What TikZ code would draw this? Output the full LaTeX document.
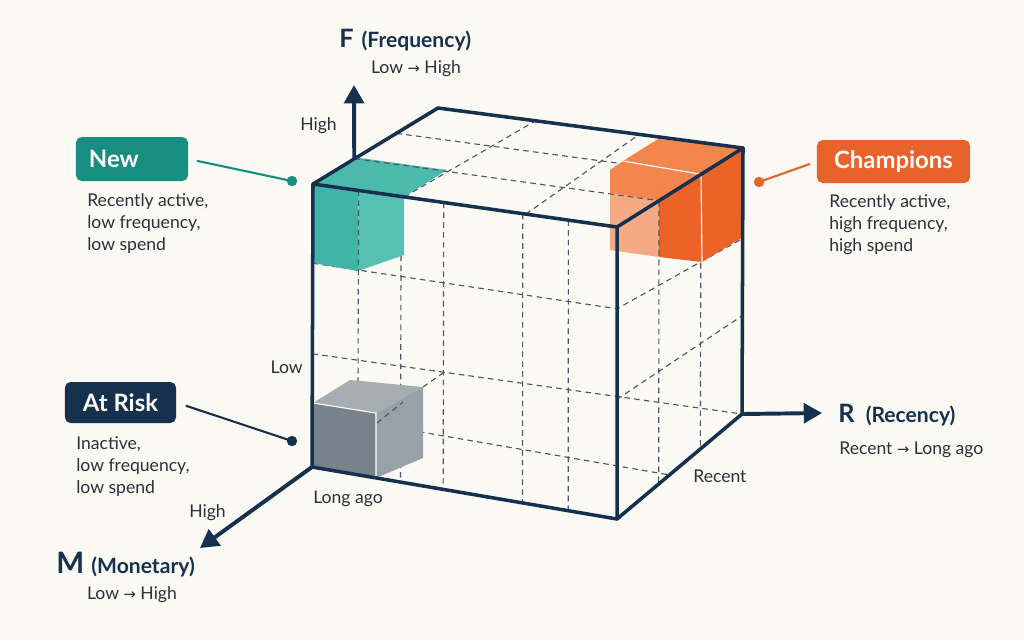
\documentclass[tikz,border=0pt]{standalone}
\usepackage{fontspec}
\setmainfont{Lato}
\newfontfamily\symfont{DejaVu Sans}
\usetikzlibrary{calc,arrows.meta}

\definecolor{bgcol}{HTML}{FBF9F3}
\definecolor{navy}{HTML}{15314E}
\definecolor{inkgray}{HTML}{2C3038}
\definecolor{gridcol}{HTML}{4E5763}
\definecolor{tealbox}{HTML}{178F80}
\definecolor{tealA}{HTML}{3FB4A7}
\definecolor{tealB}{HTML}{57C0B4}
\definecolor{tealC}{HTML}{4BBAAD}
\definecolor{orgbox}{HTML}{E8632B}
\definecolor{orgA}{HTML}{F2864C}
\definecolor{orgB}{HTML}{F6AA84}
\definecolor{orgC}{HTML}{EB6327}
\definecolor{grayA}{HTML}{77828A}
\definecolor{grayB}{HTML}{98A1A7}
\definecolor{grayC}{HTML}{A5ADB1}

\newcommand{\rarr}{{\symfont\fontsize{10.5}{12}\selectfont →}}

\begin{document}
\begin{tikzpicture}[x=0.025cm, y=-0.025cm,
  cubeedge/.style={navy, line width=2.5pt, line join=round, line cap=round},
  axisarrow/.style={navy, line width=2.8pt, -{Triangle[length=13pt,width=14pt]}},
  gridline/.style={gridcol, line width=0.8pt, dash pattern=on 4pt off 3pt},
  tag/.style={rounded corners=4pt, text=white, font=\fontsize{17}{20}\selectfont\bfseries, inner sep=0pt},
  desc/.style={inkgray, font=\fontsize{12.5}{15.6}\selectfont, align=left, anchor=north west, inner sep=0pt},
  axlab/.style={navy, anchor=base west, inner sep=0pt},
  tick/.style={inkgray, font=\fontsize{12.5}{14}\selectfont, inner sep=0pt},
  link/.style={line width=1.5pt},
  dot/.style={circle, inner sep=0pt, minimum size=0.26cm}]

  \useasboundingbox (0,0) rectangle (1024,640);
  \fill[bgcol] (0,0) rectangle (1024,640);

  % Cube corners
  \coordinate (A) at (313,184);
  \coordinate (B) at (617,227);
  \coordinate (C) at (617,519);
  \coordinate (D) at (312,467);
  \coordinate (E) at (438,108);
  \coordinate (F) at (743,148);
  \coordinate (G) at (742,414);

  % Top face grid
  \draw[gridline] ($(A)!2/3!(E)$) -- ($(B)!2/3!(F)$);
  \draw[gridline] ($(A)!0.3!(B)$) -- ($(E)!0.32!(F)$);
  \draw[gridline] ($(A)!0.7!(B)$) -- ($(E)!0.66!(F)$);

  % Front face grid
  \foreach \u in {0.29,0.43,0.69,0.84}
    \draw[gridline] ($(A)!\u!(B)$) -- ($(D)!\u!(C)$);
  \draw[gridline] ($(A)!0.28!(D)$) -- ($(B)!0.28!(C)$) -- ($(F)!0.34!(G)$);
  \draw[gridline] ($(A)!0.6!(D)$) -- (G);
  \draw[gridline] ($(A)!0.81!(D)$) -- ($(C)!0.42!(G)$);

  % Right face grid
  \draw[gridline] ($(B)!0.59!(C)$) -- ($(F)!0.63!(G)$);
  \draw[gridline] ($(B)!2/3!(F)$) -- ($(C)!2/3!(G)$);
  \draw[gridline] (423,387) -- (443,373);

  % New block
  \fill[tealC] (A) -- (360,158) -- (447,170) -- ($(A)!0.3!(B)$) -- cycle;
  \fill[tealA] (A) -- ($(A)!0.15!(B)$) -- (358,271) -- (313,263) -- cycle;
  \fill[tealB] ($(A)!0.15!(B)$) -- ($(A)!0.3!(B)$) -- (404,255) -- (358,271) -- cycle;

  % Champions block
  \fill[orgA] (610,170) -- (623,161) -- (658,139) -- (F) -- ($(B)!1/3!(F)$) -- (610,193) -- cycle;
  \fill[orgB] (610,193) -- ($(B)!1/3!(F)$) -- (659,257) -- (610,250) -- cycle;
  \fill[orgC] ($(B)!1/3!(F)$) -- (F) -- (743,237) -- (702,262) -- (659,257) -- cycle;
  \draw[white, line width=0.8pt] (623,161) -- ($(B)!2/3!(F)$) -- (702,262);

  % grid seen over the blocks
  \draw[gridline] ($(A)!1/3!(E)$) -- ($(B)!1/3!(F)$);
  \draw[gridline] ($(A)!0.15!(B)$) -- ($(D)!0.15!(C)$);
  \draw[gridline] ($(B)!1/3!(F)$) -- ($(C)!1/3!(G)$);

  % At Risk block
  \fill[grayC] (313,403) -- (350,380) -- (423,387) -- (376,413) -- cycle;
  \fill[grayB] (376,413) -- (423,387) -- (423,458) -- (376,478) -- cycle;
  \fill[grayA] (313,403) -- (376,413) -- (376,478) -- (D) -- cycle;
  \draw[white, line width=0.8pt] (313,403) -- (376,413) -- (376,478);
  \draw[gridline] (377,423) -- (403,402);

  % Axes
  \coordinate (Fbase) at ($(A)!0.33!(E)$);
  \coordinate (Ftip) at (354,85);
  \coordinate (Mtip) at (200,548);
  \coordinate (Rtip) at (822,413);
  \draw[axisarrow] (Fbase) -- (Ftip);
  \draw[axisarrow] (D) -- (Mtip);
  \draw[axisarrow] (G) -- (Rtip);

  % Cube edges
  \draw[cubeedge] (A) -- (B) -- (C) -- (D) -- cycle;
  \draw[cubeedge] (A) -- (E) -- (F) -- (B);
  \draw[cubeedge] (F) -- (G) -- (C);

  % Axis labels
  \node[axlab] (flab) at (339,47) {\fontsize{18}{20}\selectfont\bfseries F\hspace{0.2cm}\fontsize{15}{18}\selectfont(Frequency)};
  \node[tick, anchor=base] (frange) at (416,73) {Low \rarr{} High};
  \node[axlab] (rlab) at (838,422) {\fontsize{18}{20}\selectfont\bfseries R\hspace{0.28cm}\fontsize{15}{18}\selectfont(Recency)};
  \node[tick, anchor=base west] (rrange) at (839,454) {Recent \rarr{} Long ago};
  \node[axlab] (mlab) at (56,573) {\fontsize{21}{22}\selectfont\bfseries M\hspace{0.18cm}\fontsize{15}{18}\selectfont(Monetary)};
  \node[tick, anchor=base] (mrange) at (132,599) {Low \rarr{} High};

  % Axis ends
  \node[tick, anchor=base east] (fhigh) at (337,130) {High};
  \node[tick, anchor=base east] (flow) at (303,373) {Low};
  \node[tick, anchor=base west] (rlong) at (313,503) {Long ago};
  \node[tick, anchor=base west] (rrecent) at (693,482) {Recent};
  \node[tick, anchor=base west] (mhigh) at (189,517) {High};

  % Segment tags
  \node[tag, fill=tealbox, minimum width=2.8cm, minimum height=1.1cm, text width=2.15cm, align=left] (new) at (132,159) {New};
  \node[desc] (newtxt) at (87,193) {Recently active,\\low frequency,\\low spend};
  \node[dot, fill=tealbox] (newdot) at (292,181) {};
  \draw[link, tealbox, shorten <=0.22cm] (new.east) -- (newdot.center);

  \node[tag, fill=orgbox, minimum width=3.825cm, minimum height=1.075cm] (champ) at (893.5,161.5) {Champions};
  \node[desc] (champtxt) at (829,194) {Recently active,\\high frequency,\\high spend};
  \node[dot, fill=orgbox] (champdot) at (759,182) {};
  \draw[link, orgbox, shorten <=0.18cm] (champ.west) -- (champdot.center);

  \node[tag, fill=navy, minimum width=2.775cm, minimum height=1.025cm] (risk) at (120.5,402.5) {At Risk};
  \node[desc] (risktxt) at (76,436) {Inactive,\\low frequency,\\low spend};
  \node[dot, fill=navy] (riskdot) at (292,441) {};
  \draw[link, navy, shorten <=0.25cm] (risk.east) -- (riskdot.center);

\end{tikzpicture}
\end{document}
